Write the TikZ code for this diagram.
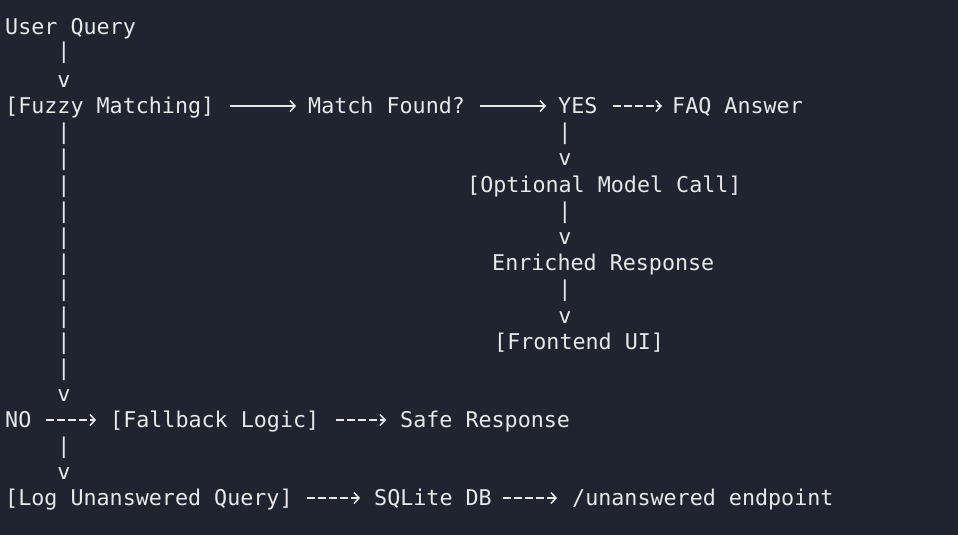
\documentclass[tikz,border=0pt]{standalone}
\usepackage{fontspec}
\setmonofont{DejaVu Sans Mono}
\usetikzlibrary{arrows.meta}
\definecolor{bg}{HTML}{1F2430}
\definecolor{fg}{HTML}{E8E8E8}
\begin{document}
\begin{tikzpicture}[x=1pt,y=-1pt,
  t/.style={anchor=base west,inner sep=0pt,text=fg,font=\ttfamily\fontsize{21.7}{24}\selectfont},
  c/.style={anchor=base,inner sep=0pt,text=fg,font=\ttfamily\fontsize{21.7}{24}\selectfont},
  long/.style={draw=fg,line width=1.5pt,-{Straight Barb[length=5pt,width=11pt,line width=1.5pt]}},
  dsh/.style={long,dash pattern=on 8pt off 3pt}]
\fill[bg] (0,0) rectangle (958,535);
\useasboundingbox (0,0) rectangle (958,535);
\def\b{7}
\node[t] (uq) at (5,28+\b) {User Query};
\node[c] (p1) at (64,52+\b) {|};
\node[c] (v1) at (64,80+\b) {v};
\node[t] (fm) at (5,106+\b) {[Fuzzy Matching]};
\node[t] (mf) at (308,106+\b) {Match Found?};
\node[t] (yes) at (558,106+\b) {YES};
\node[t] (faq) at (672,106+\b) {FAQ Answer};
\coordinate (a1s) at (230,106); \coordinate (a1e) at (296,106);
\coordinate (a2s) at (480,106); \coordinate (a2e) at (546,106);
\coordinate (a3s) at (613,106); \coordinate (a3e) at (662,106);
\draw[long] (a1s) -- (a1e);
\draw[long] (a2s) -- (a2e);
\draw[dsh] (a3s) -- (a3e);
\node[c] (yp1) at (565,132+\b) {|};
\node[c] (yv1) at (565,158+\b) {v};
\node[t] (omc) at (467,185+\b) {[Optional Model Call]};
\node[c] (yp2) at (565,211+\b) {|};
\node[c] (yv2) at (565,237+\b) {v};
\node[t] (er) at (492,263+\b) {Enriched Response};
\node[c] (yp3) at (565,289+\b) {|};
\node[c] (yv3) at (565,316+\b) {v};
\node[t] (fui) at (494,342+\b) {[Frontend UI]};
\foreach \y [count=\i] in {132,158,185,211,237,263,289,316,342,368}
  \node[c] (lp\i) at (64,\y+\b) {|};
\node[c] (v2) at (64,394+\b) {v};
\node[t] (no) at (5,420+\b) {NO};
\node[t] (fl) at (110,420+\b) {[Fallback Logic]};
\node[t] (sr) at (400,420+\b) {Safe Response};
\coordinate (n1) at (46,420); \coordinate (n2) at (96,420);
\coordinate (n3) at (336,420); \coordinate (n4) at (386,420);
\draw[dsh] (n1) -- (n2);
\draw[dsh] (n3) -- (n4);
\node[c] (p3) at (64,446+\b) {|};
\node[c] (v3) at (64,472+\b) {v};
\node[t] (log) at (5,498+\b) {[Log Unanswered Query]};
\node[t] (db) at (374,498+\b) {SQLite DB};
\node[t] (ep) at (572,498+\b) {/unanswered endpoint};
\coordinate (m1) at (307,498); \coordinate (m2) at (360,498);
\coordinate (m3) at (503,498); \coordinate (m4) at (557,498);
\draw[dsh] (m1) -- (m2);
\draw[dsh] (m3) -- (m4);
\end{tikzpicture}
\end{document}
